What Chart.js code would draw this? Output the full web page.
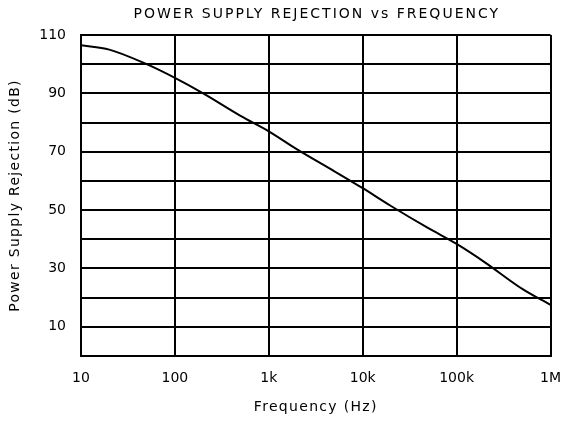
<!DOCTYPE html>
<html>
<head>
<meta charset="utf-8">
<script src="https://cdn.jsdelivr.net/npm/chart.js@4.4.1/dist/chart.umd.min.js"></script>
<style>
  html, body { margin: 0; padding: 0; background: #fff; }
  #wrap { width: 575px; height: 422px; }
</style>
</head>
<body>
<div id="wrap"><canvas id="grafico"></canvas></div>
<script>
// Dados (frequência em Hz, rejeição em dB)
const frequencias = [10, 20, 50, 100, 200, 500, 1e3, 2e3, 5e3, 1e4, 2e4, 5e4, 1e5, 2e5, 5e5, 1e6];
const rejeicao = [106.5, 105, 100, 95.3, 90, 82.3, 77, 70.8, 63.3, 57.5, 51.4, 43.8, 38.4, 32.1, 23, 17.5];

// Rótulos do eixo X (décadas)
const decadas = [10, 100, 1e3, 1e4, 1e5, 1e6];
const rotulosX = ['10', '100', '1k', '10k', '100k', '1M'];
// Rótulos do eixo Y (só os ímpares aparecem)
const rotulosY = [10, 30, 50, 70, 90, 110];

const titulo = 'POWER SUPPLY REJECTION vs FREQUENCY';
const tituloX = 'Frequency (Hz)';
const tituloY = 'Power Supply Rejection (dB)';

const fonte = '"DejaVu Sans", Arial, sans-serif';

// Títulos desenhados à mão para poder espaçar as letras como no original
const titulosEspacados = {
    id: 'titulosEspacados',
    afterDraw(chart) {
        const c = chart.ctx;
        const area = chart.chartArea;
        const cx = (area.left + area.right) / 2;
        const cy = (area.top + area.bottom) / 2;
        c.save();
        c.fillStyle = '#000';
        c.textAlign = 'center';
        c.textBaseline = 'middle';
        c.font = '14px ' + fonte;

        c.letterSpacing = '2px';
        c.fillText(titulo, cx + 1, 14);

        c.letterSpacing = '1.3px';
        c.fillText(tituloX, cx, 407);

        c.translate(15, cy);
        c.rotate(-Math.PI / 2);
        c.fillText(tituloY, 0, 0);
        c.restore();
    }
};

const ctx = document.getElementById('grafico').getContext('2d');

new Chart(ctx, {
    type: 'line',
    data: {
        datasets: [{
            data: frequencias.map((f, i) => ({ x: f, y: rejeicao[i] })),
            borderColor: '#000',
            borderWidth: 2,
            pointRadius: 0,
            cubicInterpolationMode: 'monotone',
            fill: false
        }]
    },
    options: {
        responsive: true,
        maintainAspectRatio: false,
        animation: false,
        layout: { padding: { left: 0, right: 22, top: 35, bottom: 0 } },
        plugins: {
            legend: { display: false },
            tooltip: { enabled: false },
            title: { display: false }
        },
        scales: {
            x: {
                type: 'logarithmic',
                min: 10,
                max: 1e6,
                afterBuildTicks: axis => { axis.ticks = decadas.map(v => ({ value: v })); },
                afterFit: axis => { axis.height = 66; },
                ticks: {
                    color: '#000',
                    font: { family: fonte, size: 14 },
                    padding: 14,
                    maxRotation: 0,
                    autoSkip: false,
                    callback: (v) => rotulosX[decadas.indexOf(v)]
                },
                grid: { color: '#000', lineWidth: 2, drawTicks: false },
                border: { color: '#000', width: 2 }
            },
            y: {
                min: 0,
                max: 110,
                afterFit: axis => { axis.width = 81; },
                ticks: {
                    stepSize: 10,
                    color: '#000',
                    font: { family: fonte, size: 14 },
                    padding: 15,
                    callback: (v) => rotulosY.includes(v) ? String(v) : ''
                },
                grid: { color: '#000', lineWidth: 2, drawTicks: false },
                border: { color: '#000', width: 2 }
            }
        }
    },
    plugins: [titulosEspacados]
});
</script>
</body>
</html>
